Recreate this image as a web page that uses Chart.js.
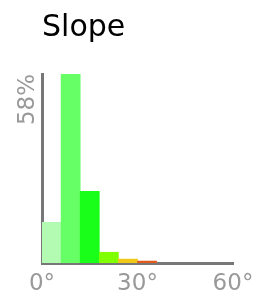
<!DOCTYPE html>
<html>
<head>
<meta charset="utf-8">
<script src="https://cdn.jsdelivr.net/npm/chart.js@4/dist/chart.umd.min.js"></script>
<style>
  html, body { margin: 0; padding: 0; background: #fff; }
  #wrap { width: 256px; height: 299px; }
</style>
</head>
<body>
<div id="wrap"><canvas id="slopeChart" width="256" height="299"></canvas></div>
<script>
// slope bins (degrees, left edge of each 6° bin) and share of area in %
var binStart = [0, 6, 12, 18, 24, 30];
var binShare = [12.5, 58, 22, 3.3, 1.2, 0.6];
var binColors = ['#b3fbb3', '#66ff66', '#1aff1a', '#80ff00', '#f0c818', '#e05a1e'];
var xTicks = [0, 30, 60];
var yMax = 58;

var points = binStart.map(function (b, i) {
    return { x: b + 3, y: binShare[i] };
});

var ctx = document.getElementById('slopeChart').getContext('2d');
var chart = new Chart(ctx, {
    type: 'bar',
    data: {
        datasets: [{
            data: points,
            backgroundColor: binColors,
            borderWidth: 0,
            barPercentage: 1,
            categoryPercentage: 1
        }]
    },
    options: {
        responsive: false,
        animation: false,
        layout: { padding: { left: -9, right: 23, top: 0, bottom: -7 } },
        plugins: {
            legend: { display: false },
            tooltip: { enabled: false },
            title: {
                display: true,
                text: 'Slope',
                align: 'start',
                fullSize: false,
                color: '#000',
                font: { family: 'DejaVu Sans', size: 30, weight: 'normal' },
                padding: { top: 10, bottom: 28 }
            }
        },
        scales: {
            x: {
                type: 'linear',
                min: 0,
                max: 60,
                offset: false,
                afterBuildTicks: function (s) {
                    s.ticks = xTicks.map(function (v) { return { value: v }; });
                },
                afterFit: function (s) {
                    s.paddingLeft = 0;
                    s.paddingRight = 0;
                },
                grid: { display: false, drawTicks: false },
                border: { display: true, color: '#777', width: 3 },
                ticks: {
                    color: '#999',
                    font: { family: 'DejaVu Sans', size: 23, lineHeight: 1 },
                    padding: 10,
                    maxRotation: 0,
                    callback: function (v) { return v + '°'; }
                }
            },
            y: {
                min: 0,
                max: yMax,
                afterBuildTicks: function (s) {
                    s.ticks = [{ value: yMax }];
                },
                grid: { display: false, drawTicks: false },
                border: { display: true, color: '#777', width: 3 },
                ticks: {
                    color: '#999',
                    font: { family: 'DejaVu Sans', size: 23, lineHeight: 1 },
                    padding: 14,
                    minRotation: 90,
                    maxRotation: 90,
                    callback: function (v) { return v + '%'; }
                }
            }
        }
    }
});
</script>
</body>
</html>
